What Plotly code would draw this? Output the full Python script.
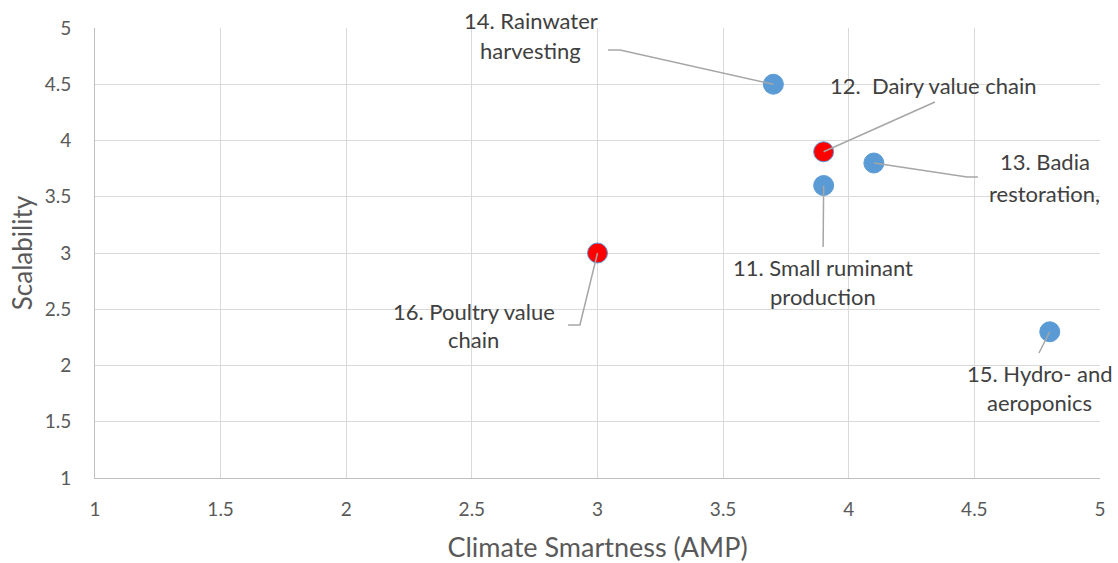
import plotly.graph_objects as go

# Interventions scored on climate smartness (AMP) vs scalability
labels = [
    "14. Rainwater\nharvesting",
    "12.  Dairy value chain",
    "13. Badia\nrestoration,",
    "11. Small ruminant\nproduction",
    "16. Poultry value\nchain",
    "15. Hydro- and\naeroponics",
]
climate_smartness = [3.7, 3.9, 4.1, 3.9, 3.0, 4.8]
scalability = [4.5, 3.9, 3.8, 3.6, 3.0, 2.3]
highlighted = [False, True, False, False, True, False]

x_ticks = [1, 1.5, 2, 2.5, 3, 3.5, 4, 4.5, 5]
y_ticks = [1, 1.5, 2, 2.5, 3, 3.5, 4, 4.5, 5]
AXIS_MIN, AXIS_MAX = 1, 5

# Label placement (data units): centre x, and y of each text line
label_x = [2.735, 4.339, 4.781, 3.898, 2.508, 4.761]
label_y = [[5.071, 4.804], [4.493], [3.809, 3.533], [2.867, 2.609], [2.476, 2.227], [1.933, 1.667]]
# Leader-line waypoints from each label towards its point (data units)
leader_paths = [
    [(3.042, 4.804), (3.090, 4.804)],
    [(4.343, 4.342)],
    [(4.514, 3.676), (4.471, 3.676)],
    [(3.898, 3.053)],
    [(2.883, 2.360), (2.930, 2.360)],
    [(4.757, 2.111)],
]

BLUE = "#5b9bd5"
RED = "#ff0000"
FONT = "Lato"


def to_domain(v):
    return (v - AXIS_MIN) / (AXIS_MAX - AXIS_MIN)


fig = go.Figure()

fig.add_trace(go.Scatter(
    x=climate_smartness,
    y=scalability,
    mode="markers",
    marker=dict(
        size=20,
        color=[RED if h else BLUE for h in highlighted],
        line=dict(color=BLUE, width=1),
    ),
    showlegend=False,
    hoverinfo="skip",
))

for i, text in enumerate(labels):
    for line, ly in zip(text.split("\n"), label_y[i]):
        # domain refs so labels may sit above the top of the axis range
        fig.add_annotation(
            x=to_domain(label_x[i]), y=to_domain(ly),
            xref="x domain", yref="y domain",
            text=line, showarrow=False,
            xanchor="center", yanchor="middle",
            font=dict(family=FONT, size=22, color="#404040"),
        )
    pts = leader_paths[i] + [(climate_smartness[i], scalability[i])]
    path = "M " + " L ".join(f"{px},{py}" for px, py in pts)
    fig.add_shape(type="path", path=path, xref="x", yref="y",
                  line=dict(color="#a6a6a6", width=1.5))

axis_common = dict(
    showgrid=True, gridcolor="#d9d9d9", gridwidth=1,
    zeroline=False,
    showline=True, linecolor="#bfbfbf", linewidth=1,
    tickfont=dict(family=FONT, size=19, color="#595959"),
    ticks="",
    automargin=False,
)

fig.update_xaxes(
    range=[AXIS_MIN, AXIS_MAX], tickvals=x_ticks, ticktext=[f"{v:g}" for v in x_ticks],
    title=dict(text="Climate Smartness (AMP)", standoff=20,
               font=dict(family=FONT, size=27, color="#595959")),
    ticklabelstandoff=14,
    **axis_common,
)
fig.update_yaxes(
    range=[AXIS_MIN, AXIS_MAX], tickvals=y_ticks, ticktext=[f"{v:g}" for v in y_ticks],
    title=dict(text="Scalability", standoff=4,
               font=dict(family=FONT, size=26, color="#595959")),
    ticklabelstandoff=19,
    **axis_common,
)

fig.update_layout(
    width=1118, height=563,
    margin=dict(l=95, r=18, t=28, b=85),
    plot_bgcolor="white", paper_bgcolor="white",
)

fig.write_html("out.html")
